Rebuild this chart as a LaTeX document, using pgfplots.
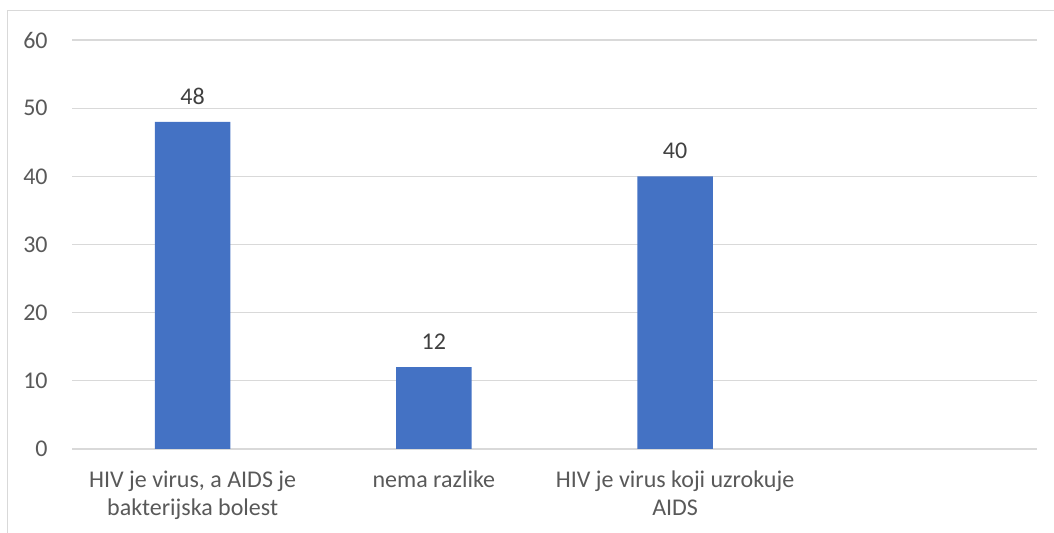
\documentclass[border=0pt]{standalone}
\usepackage{pgfplots}
\pgfplotsset{compat=1.18}
\usepackage{fontspec}
\setmainfont{Carlito}
\definecolor{barblue}{HTML}{4472C4}
\definecolor{gridgrey}{HTML}{D9D9D9}
\definecolor{txtgrey}{HTML}{595959}
\definecolor{lblgrey}{HTML}{404040}
\newcommand{\lblfont}{\fontsize{12}{13.75}\selectfont}
\begin{document}
\begin{tikzpicture}[x=1pt,y=1pt]
\path[use as bounding box] (0,0) rectangle (527,266.5);
% chart frame (only top and left edges are visible)
\draw[gridgrey, line width=0.75pt] (3.75,0) -- (3.75,261.25) -- (528,261.25);
\begin{axis}[
    at={(36pt,42pt)}, anchor=south west,
    scale only axis, width=482.5pt, height=204.5pt,
    ybar, bar width=0.3125,
    xmin=-0.5, xmax=3.5, ymin=0, ymax=60,
    xtick={0,1,2},
    xticklabels={{\strut HIV je virus, a AIDS je\\bakterijska bolest},
                 {\strut nema razlike},
                 {\strut HIV je virus koji uzrokuje\\AIDS}},
    ytick={0,10,...,60},
    axis line style={draw=none},
    major tick length=0pt,
    ymajorgrids, grid style={gridgrey, line width=0.65pt},
    /pgf/number format/assume math mode=true,
    yticklabel style={font=\lblfont, text=txtgrey, inner sep=0pt, anchor=east, xshift=-12pt},
    xticklabel style={font=\lblfont, text=txtgrey, inner sep=0pt, anchor=north, align=center, yshift=-9.6pt},
    nodes near coords,
    every node near coord/.append style={font=\lblfont, text=lblgrey, inner sep=0pt, anchor=south, yshift=8.5pt},
  ]
  \addplot[fill=barblue, draw=none] coordinates {(0,48) (1,12) (2,40)};
\end{axis}
\end{tikzpicture}
\end{document}
